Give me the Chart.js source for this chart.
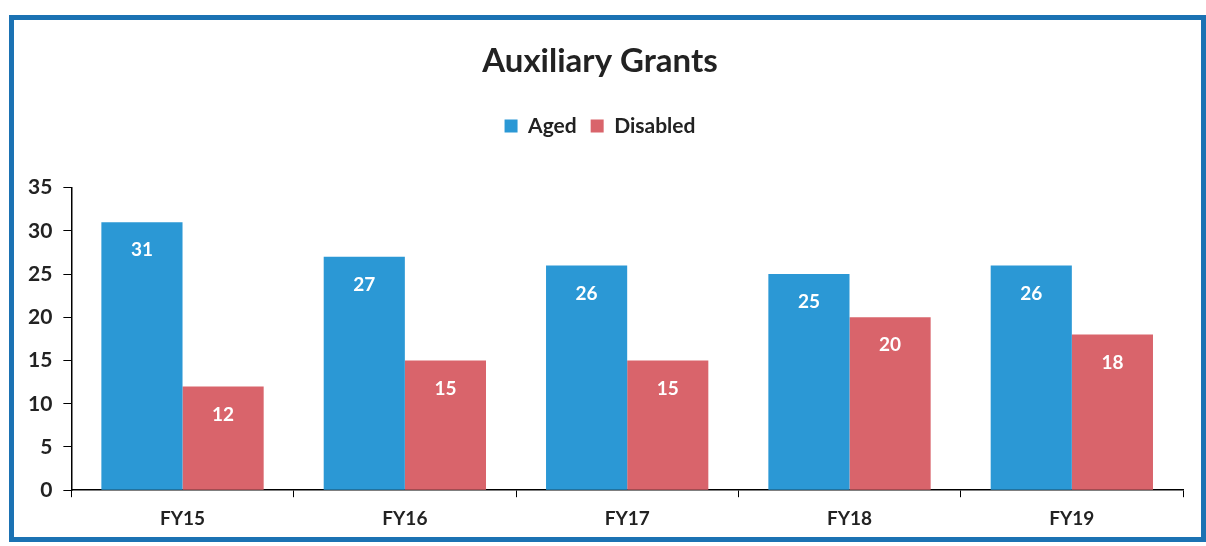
<!DOCTYPE html>
<html>
<head>
<meta charset="utf-8">
<script src="https://cdn.jsdelivr.net/npm/chart.js@4/dist/chart.umd.min.js"></script>
<style>
    html, body { margin: 0; padding: 0; background: #fff; }
    #wrap { position: relative; width: 1206px; height: 546px; }
    #frame {
        position: absolute; left: 9px; top: 15px; width: 1187px; height: 517px;
        border: 5px solid #1b72b3; pointer-events: none;
    }
</style>
</head>
<body>
<div id="wrap">
    <canvas id="grants" width="1206" height="546"></canvas>
    <div id="frame"></div>
</div>
<script>
// values (data labels)
const years = ["FY15", "FY16", "FY17", "FY18", "FY19"];
const aged = [31, 27, 26, 25, 26];
const disabled = [12, 15, 15, 20, 18];
const yTicks = [0, 5, 10, 15, 20, 25, 30, 35];

const FONT = "Lato, 'Open Sans', sans-serif";

// white value labels near the top of each bar
const barLabels = {
    id: "barLabels",
    afterDatasetsDraw(chart) {
        const ctx = chart.ctx;
        ctx.save();
        ctx.fillStyle = "#ffffff";
        ctx.font = "bold 19px " + FONT;
        ctx.textAlign = "center";
        ctx.textBaseline = "middle";
        chart.data.datasets.forEach((ds, i) => {
            chart.getDatasetMeta(i).data.forEach((bar, j) => {
                ctx.fillText(ds.data[j], bar.x, bar.y + 28);
            });
        });
        ctx.restore();
    }
};

// extra gap under the legend
const legendGap = {
    id: "legendGap",
    beforeInit(chart) {
        const fit = chart.legend.fit;
        chart.legend.fit = function () {
            fit.bind(chart.legend)();
            this.height += 41;
        };
    }
};

new Chart(document.getElementById("grants"), {
    type: "bar",
    data: {
        labels: years,
        datasets: [
            { label: "Aged", data: aged, backgroundColor: "#2b98d5", categoryPercentage: 0.73, barPercentage: 1.0 },
            { label: "Disabled", data: disabled, backgroundColor: "#d9646b", categoryPercentage: 0.73, barPercentage: 1.0 }
        ]
    },
    options: {
        responsive: false,
        animation: false,
        layout: { padding: { top: 42, left: 17, right: 23, bottom: 6 } },
        plugins: {
            title: {
                display: true,
                text: "Auxiliary Grants",
                color: "#222",
                font: { family: FONT, size: 33, weight: "bold" },
                padding: { top: 0, bottom: 20 }
            },
            legend: {
                display: true,
                labels: {
                    color: "#222",
                    font: { family: FONT, size: 21, weight: "bold" },
                    boxWidth: 13,
                    boxHeight: 13,
                    padding: 14
                }
            },
            tooltip: { enabled: false }
        },
        scales: {
            x: {
                border: { display: true, color: "#000", width: 1.5 },
                grid: { display: true, drawOnChartArea: false, drawTicks: true, tickLength: 7, color: "#000" },
                ticks: { color: "#222", font: { family: FONT, size: 19, weight: "bold" }, padding: 10 }
            },
            y: {
                min: 0,
                max: 35,
                afterBuildTicks(axis) { axis.ticks = yTicks.map(v => ({ value: v })); },
                border: { display: true, color: "#000", width: 1.5 },
                grid: { display: true, drawOnChartArea: false, drawTicks: true, tickLength: 8, color: "#000" },
                ticks: { color: "#222", font: { family: FONT, size: 21, weight: "bold" }, padding: 11 }
            }
        }
    },
    plugins: [barLabels, legendGap]
});
</script>
</body>
</html>
